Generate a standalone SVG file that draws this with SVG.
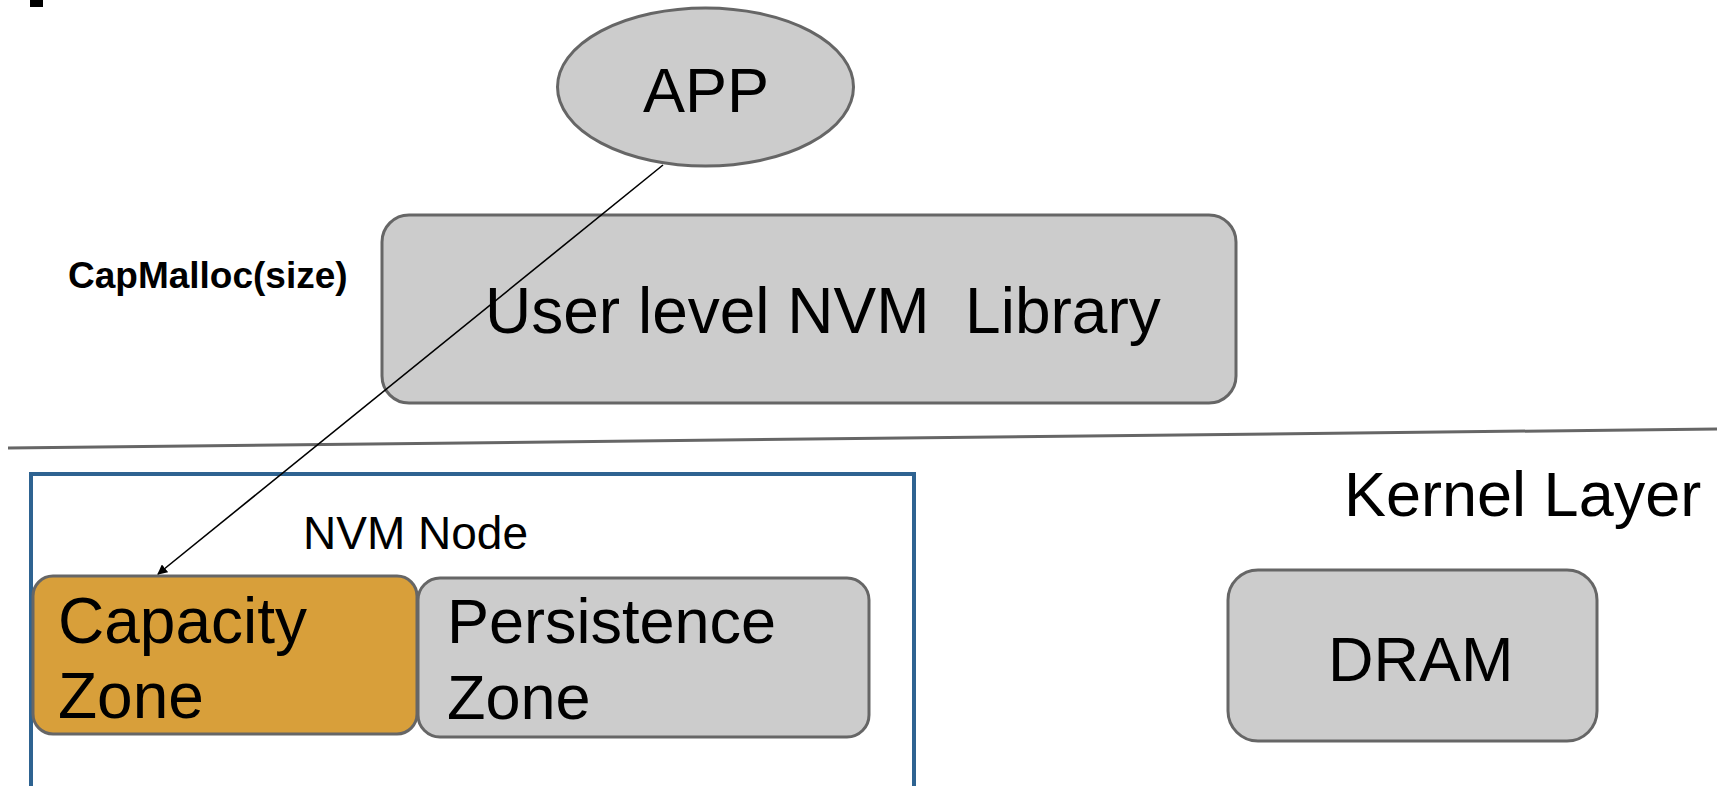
<svg xmlns="http://www.w3.org/2000/svg" width="1733" height="786" viewBox="0 0 1733 786">
  <style>
    .box { fill: #cccccc; stroke: #666666; stroke-width: 3; }
    .cap { fill: #d89f3a; stroke: #666666; stroke-width: 3; }
    .lbl { font-family: "Liberation Sans", Arial, sans-serif; fill: #000000; }
    .conn { stroke: #000000; stroke-width: 1.6; fill: none; }
  </style>
  <defs>
    <marker id="arrow" viewBox="0 0 10 10" refX="9" refY="5" markerWidth="10" markerHeight="10" markerUnits="userSpaceOnUse" orient="auto">
      <path d="M0,0 L10,5 L0,10 Z" fill="#000000"/>
    </marker>
  </defs>
  <rect width="1733" height="786" fill="#ffffff"/>

  <!-- clipped glyph fragment at the top edge -->
  <rect x="30" y="0" width="13" height="7" fill="#000000"/>

  <!-- layer separator -->
  <line x1="8" y1="448" x2="1717" y2="429" stroke="#666666" stroke-width="3"/>

  <g id="app">
    <ellipse class="box" cx="705.5" cy="87" rx="148" ry="79"/>
    <text class="lbl" x="643" y="112" font-size="63">APP</text>
  </g>

  <g id="nvm-library">
    <rect class="box" x="382" y="215" width="854" height="188" rx="27" ry="27"/>
    <text class="lbl" x="485" y="333" font-size="64" xml:space="preserve">User level NVM  Library</text>
  </g>

  <g id="capmalloc-label">
    <text class="lbl" x="68" y="288" font-size="37" font-weight="bold">CapMalloc(size)</text>
  </g>

  <g id="kernel-layer-label">
    <text class="lbl" x="1344" y="516" font-size="63">Kernel Layer</text>
  </g>

  <g id="nvm-node">
    <rect x="31" y="474" width="883" height="330" fill="none" stroke="#2e6391" stroke-width="4"/>
    <text class="lbl" x="303" y="549" font-size="46">NVM Node</text>
  </g>

  <g id="capacity-zone">
    <rect class="cap" x="33" y="576" width="384" height="158" rx="20" ry="20"/>
    <text class="lbl" x="58" y="643" font-size="64">Capacity</text>
    <text class="lbl" x="58" y="718" font-size="64">Zone</text>
  </g>

  <g id="persistence-zone">
    <rect class="box" x="418" y="578" width="451" height="159" rx="22" ry="22"/>
    <text class="lbl" x="447" y="643" font-size="63">Persistence</text>
    <text class="lbl" x="447" y="719" font-size="63">Zone</text>
  </g>

  <g id="dram">
    <rect class="box" x="1228" y="570" width="369" height="171" rx="30" ry="30"/>
    <text class="lbl" x="1328" y="681" font-size="63">DRAM</text>
  </g>

  <g id="connectors">
    <line class="conn" x1="663" y1="165" x2="158" y2="574" marker-end="url(#arrow)"/>
  </g>
</svg>
